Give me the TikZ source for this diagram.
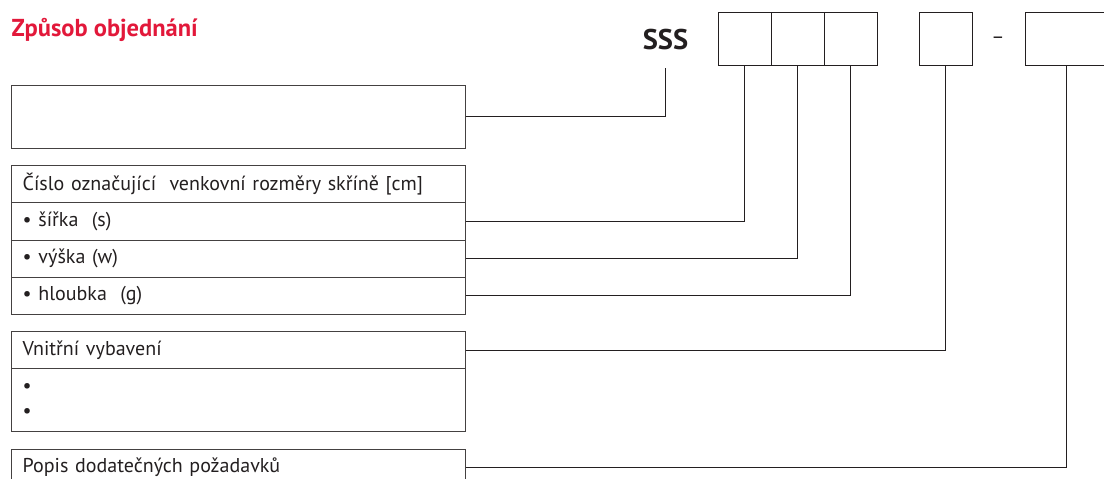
\documentclass[tikz,border=0pt]{standalone}
\usepackage{fontspec}
\setmainfont{PT Sans}
\usetikzlibrary{positioning}
\definecolor{ordred}{RGB}{226,24,58}
\definecolor{inkgray}{RGB}{35,31,32}

\begin{document}
\begin{tikzpicture}[x=1pt,y=-1pt,
    cell/.style={draw=inkgray,line width=.9pt,minimum width=53pt,minimum height=52.7pt,inner sep=0pt,outer sep=0pt},
    row/.style={draw=inkgray!85,line width=.9pt,text width=431.8pt,inner xsep=11pt,inner ysep=0pt,
      minimum height=37.3pt,align=left,outer sep=0pt,text=inkgray,font=\fontsize{20}{22}\selectfont},
    wire/.style={draw=inkgray,line width=.9pt}]
  \useasboundingbox (0,0) rectangle (1104,479);
  \clip (0,0) rectangle (1104,479);
  % heading
  \node[anchor=base west,inner sep=0pt,text=ordred,font=\bfseries\fontsize{24.5}{24.5}\selectfont] (title) at (11.5,36.7) {Způsob objednání};
  % order code
  \node[text=inkgray,font=\bfseries\fontsize{28.5}{28.5}\selectfont] (sss) at (665.5,40) {SSS};
  \coordinate (ssstail) at (665,68);
  \node[cell] (cs) at (744.8,38.65) {};
  \node[cell,right=0pt of cs] (cw) {};
  \node[cell,right=0pt of cw] (cg) {};
  \node[cell] (cv) at (945.8,38.65) {};
  \node[text=inkgray,font=\fontsize{20}{20}\selectfont] (dash) at (998,40) {–};
  \node[cell,minimum width=83.4pt] (cd) at (1066.7,38.65) {};
  % boxes on the left
  \node[row,minimum height=63.3pt] (code) at (238.6,116.65) {};
  \node[row] (dims) at (238.6,184) {Číslo označující\ \ venkovní rozměry skříně [cm]};
  \node[row,below=0pt of dims] (width) {• šířka\ \ (s)};
  \node[row,below=0pt of width] (height) {• výška (w)};
  \node[row,below=0pt of height] (depth) {• hloubka\ \ (g)};
  \node[row] (equip) at (238.6,350.2) {Vnitřní vybavení};
  \node[row,below=0pt of equip,minimum height=63pt,font=\fontsize{20}{24.3}\selectfont] (items) {•\\•};
  \node[row] (extra) at (238.6,467.7) {Popis dodatečných požadavků};
  % connectors
  \draw[wire] (code.east) -| (ssstail);
  \draw[wire] (width.east) -| (cs.south);
  \draw[wire] (height.east) -| (cw.south);
  \draw[wire] (depth.east) -| (cg.south);
  \draw[wire] (equip.east) -| (cv.south);
  \draw[wire] (extra.east) -| (cd.south);
\end{tikzpicture}
\end{document}
